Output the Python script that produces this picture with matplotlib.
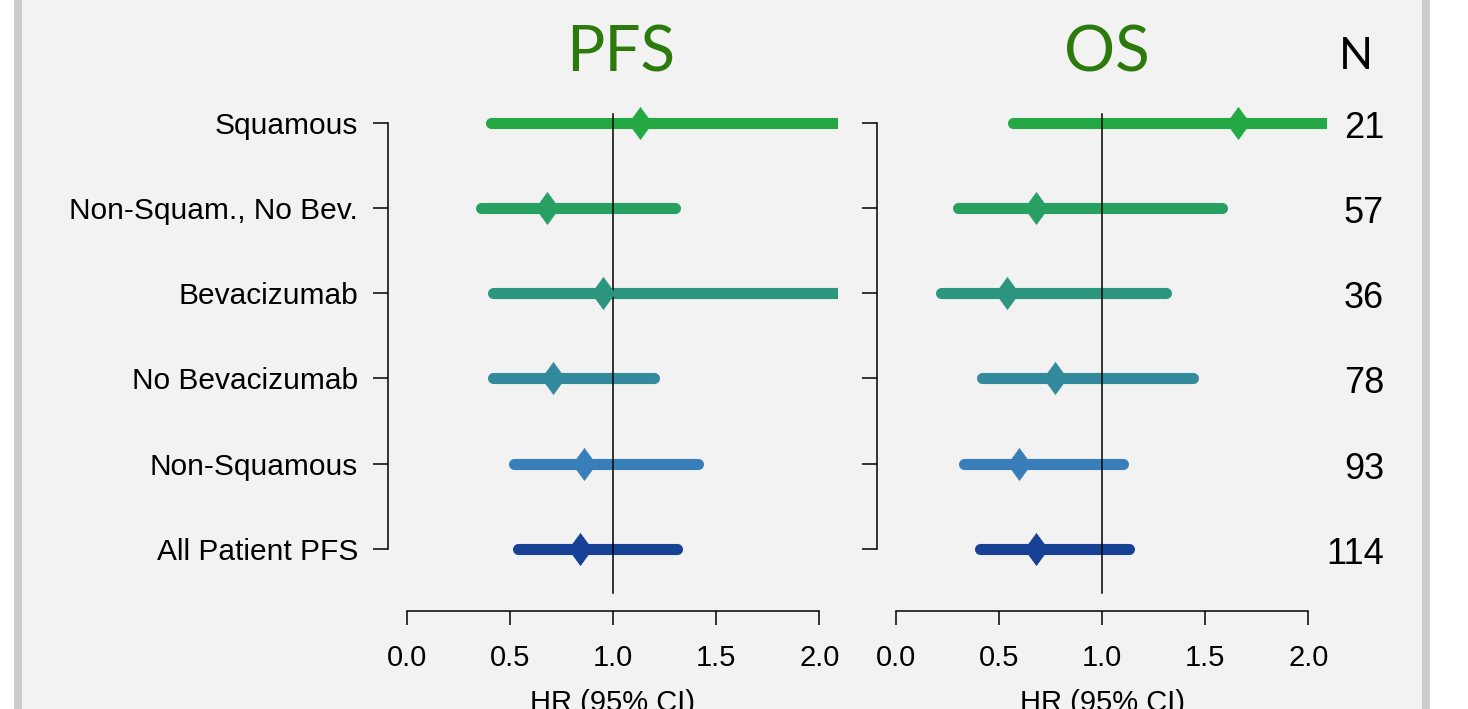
import matplotlib
matplotlib.use('Agg')
import matplotlib.pyplot as plt
from matplotlib.patches import Rectangle
import matplotlib.transforms as mtransforms

plt.rcParams['font.family'] = ['Liberation Sans', 'DejaVu Sans']

# данные
groups = ['Squamous', 'Non-Squam., No Bev.', 'Bevacizumab', 'No Bevacizumab',
          'Non-Squamous', 'All Patient PFS']
n_pts = [21, 57, 36, 78, 93, 114]
colors = ['#23a843', '#28a062', '#2c957e', '#338a9c', '#387fba', '#164194']

pfs_hr = [1.13, 0.68, 0.95, 0.71, 0.86, 0.84]
pfs_lo = [0.41, 0.36, 0.42, 0.42, 0.52, 0.54]
pfs_hi = [3.00, 1.30, 2.60, 1.20, 1.41, 1.31]

os_hr = [1.66, 0.68, 0.54, 0.77, 0.60, 0.68]
os_lo = [0.57, 0.30, 0.22, 0.42, 0.33, 0.41]
os_hi = [3.50, 1.58, 1.31, 1.44, 1.10, 1.13]

W, H = 1468, 709
fig = plt.figure(figsize=(W / 100, H / 100), dpi=100, facecolor='white')

# фон и серые рамки слева/справа
fig.patches.append(Rectangle((22 / W, 0), 1400 / W, 1, transform=fig.transFigure,
                             facecolor='#f2f2f2', edgecolor='none', zorder=-10))
fig.patches.append(Rectangle((14 / W, 0), 8 / W, 1, transform=fig.transFigure,
                             facecolor='#cccccc', edgecolor='none', zorder=-10))
fig.patches.append(Rectangle((1422 / W, 0), 8 / W, 1, transform=fig.transFigure,
                             facecolor='#cccccc', edgecolor='none', zorder=-10))

bottom = 1 - 611 / H
height = (611 - 97) / H
ax1 = fig.add_axes([388 / W, bottom, 450 / W, height])
ax2 = fig.add_axes([877 / W, bottom, 450 / W, height])

diamond = [(0, 1), (0.73, 0), (0, -1), (-0.73, 0), (0, 1)]
ypos = list(range(len(groups) - 1, -1, -1))


def forest(ax, hr, lo, hi):
    ax.set_facecolor('none')
    for y, h, l, u, c in zip(ypos, hr, lo, hi, colors):
        ax.plot([l, u], [y, y], color=c, lw=8, solid_capstyle='round', zorder=2)
        ax.plot(h, y, marker=diamond, markersize=23, color=c, mec=c, mew=0.5, zorder=4)
    ax.plot([1, 1], [-0.52, 5.1], color='black', lw=1.1, zorder=3)
    ax.set_xlim(-0.09, 2.09)
    ax.set_ylim(-0.73, 5.3)
    for s in ['top', 'right']:
        ax.spines[s].set_visible(False)
    ax.spines['left'].set_bounds(0, 5)
    ax.spines['bottom'].set_bounds(0, 2)
    ax.spines['left'].set_linewidth(1.1)
    ax.spines['bottom'].set_linewidth(1.1)
    ax.set_xticks([0, 0.5, 1.0, 1.5, 2.0])
    ax.set_xticklabels(['0.0', '0.5', '1.0', '1.5', '2.0'])
    ax.set_yticks(ypos)
    ax.tick_params(axis='x', direction='out', length=10, width=1.1, labelsize=21, pad=14)
    ax.tick_params(axis='y', direction='out', length=10.5, width=1.1, labelsize=21.5, pad=11)
    ax.set_xlabel('HR (95% CI)', fontsize=21, labelpad=12)


forest(ax1, pfs_hr, pfs_lo, pfs_hi)
forest(ax2, os_hr, os_lo, os_hi)
ax1.set_yticklabels(groups)
ax2.set_yticklabels([])

# заголовки
fig.text(621 / W, 1 - 71 / H, 'PFS', color='#2b7a0b', fontsize=46,
         family=['Lato', 'DejaVu Sans'], ha='center', va='baseline')
fig.text(1107 / W, 1 - 71 / H, 'OS', color='#2b7a0b', fontsize=46,
         family=['Lato', 'DejaVu Sans'], ha='center', va='baseline')
fig.text(1356 / W, 1 - 69 / H, 'N', color='black', fontsize=32,
         family=['Lato', 'DejaVu Sans'], ha='center', va='baseline')

# числа N: базовая линия на ~15 px ниже центра строки
trans = mtransforms.blended_transform_factory(fig.transFigure, ax2.transData)
trans = trans + mtransforms.ScaledTranslation(0, -15 / 100, fig.dpi_scale_trans)
for y, n in zip(ypos, n_pts):
    ax2.text(1384 / W, y, str(n), transform=trans, ha='right', va='baseline',
             fontsize=26, clip_on=False)

fig.savefig('out.png', dpi=100, facecolor=fig.get_facecolor())
